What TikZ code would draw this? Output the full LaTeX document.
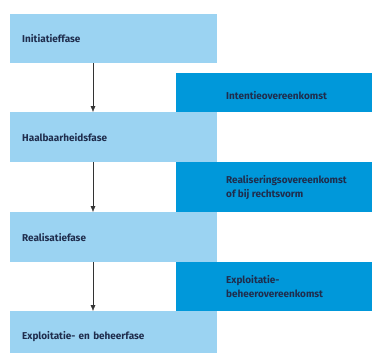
\documentclass[tikz,border=0pt]{standalone}
\usepackage{fontspec}
\usetikzlibrary{arrows.meta}
\setmainfont{Fira Sans}
\definecolor{faseblauw}{HTML}{9BD3F2}
\definecolor{akkoordblauw}{HTML}{0098DA}
\definecolor{tekstblauw}{HTML}{1F2D4D}
\begin{document}
\begin{tikzpicture}[x=1bp,y=-1bp,
    fase/.style={fill=faseblauw, anchor=north west, minimum width=207bp, minimum height=50bp,
                 text width=183bp, inner xsep=12bp, inner ysep=0pt, align=left},
    akkoord/.style={fill=akkoordblauw, anchor=north west, minimum width=196bp, minimum height=50bp, inner sep=0pt},
    opschrift/.style={anchor=west, align=left, inner sep=0pt},
    pijl/.style={-{Latex[length=6bp,width=5bp]}, thin, black!80}]
\tikzset{every node/.append style={text=tekstblauw, font=\bfseries\fontsize{10}{14}\selectfont}}
\useasboundingbox (0,0) rectangle (372,353);

    \node[fase, minimum height=49bp] (f1) at (10,14) {Initiatieffase};
    \node[akkoord, minimum height=39bp] (a1) at (176,73) {};
    \node[fase] (f2) at (10,112) {Haalbaarheidsfase};
    \node[akkoord] (a2) at (176,162) {};
    \node[fase] (f3) at (10,212) {Realisatiefase};
    \node[akkoord, minimum height=49bp] (a3) at (176,262) {};
    \node[fase] (f4) at (10,311) {Exploitatie- en beheerfase};

    \node[opschrift] (t1) at ([xshift=50bp,yshift=-3bp]a1.west) {Intentieovereenkomst};
    \node[opschrift] (t2) at ([xshift=50bp]a2.west) {Realiseringsovereenkomst\\of bij rechtsvorm};
    \node[opschrift] (t3) at ([xshift=50bp]a3.west) {Exploitatie-\\beheerovereenkomst};

\draw[pijl] ([xshift=83bp]f1.south west) -- ([xshift=83bp]f2.north west);
\draw[pijl] ([xshift=83bp]f2.south west) -- ([xshift=83bp]f3.north west);
\draw[pijl] ([xshift=83bp]f3.south west) -- ([xshift=83bp]f4.north west);
\end{tikzpicture}
\end{document}
